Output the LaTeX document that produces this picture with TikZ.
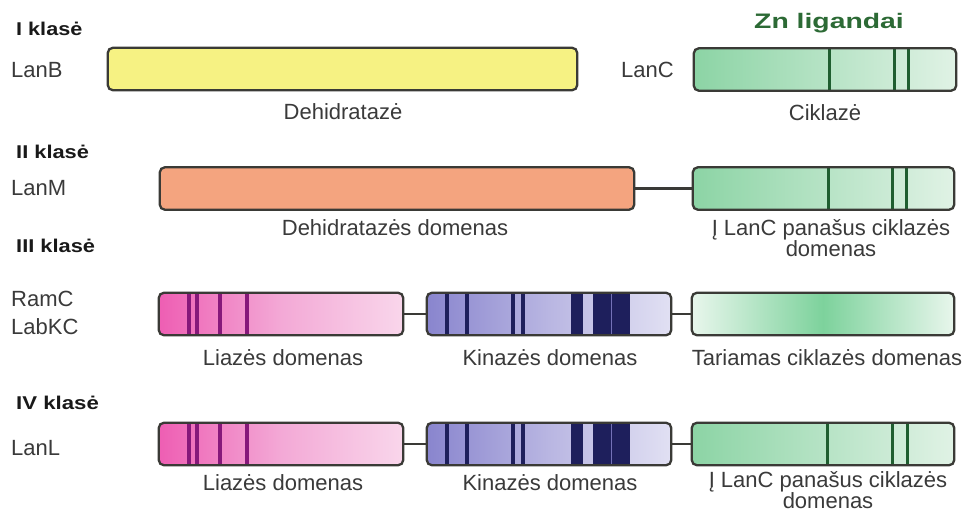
\documentclass[tikz,border=0pt]{standalone}
\usepackage{fontspec}
\setmainfont{Liberation Sans}
\usepackage{graphicx}
\definecolor{framec}{HTML}{3A3A36}
\definecolor{txtc}{HTML}{3A3A3A}
\definecolor{yel}{HTML}{F6F283}
\definecolor{ora}{HTML}{F4A47F}
\definecolor{grL}{HTML}{8CD4A5}
\definecolor{grR}{HTML}{E0F2E5}
\definecolor{grS}{HTML}{1F5E30}
\definecolor{grE}{HTML}{E8F6EC}
\definecolor{grC}{HTML}{7DD29C}
\definecolor{pkL}{HTML}{EE5EB3}
\definecolor{pkM}{HTML}{F3A9D6}
\definecolor{pkR}{HTML}{F9D6EB}
\definecolor{pkS}{HTML}{86187A}
\definecolor{kiL}{HTML}{8985CE}
\definecolor{kiM}{HTML}{B9B6E2}
\definecolor{kiR}{HTML}{E1E0F3}
\definecolor{kiS}{HTML}{1E1F5C}
\definecolor{znc}{HTML}{2C6A35}
\begin{document}
\begin{tikzpicture}[x=1pt,y=-1pt,
  dom/.style={inner sep=0pt, rounded corners=5pt, minimum height=42pt},
  frame/.style={draw=framec, line width=2.3pt, rounded corners=5pt},
  link/.style={draw=framec, line width=2.3pt},
  cls/.style={anchor=west, inner sep=0pt, font=\fontsize{18.5}{20}\selectfont\bfseries, text=black!90},
  prot/.style={anchor=west, inner sep=0pt, font=\fontsize{22}{23}\selectfont, text=txtc},
  lab/.style={inner sep=0pt, align=center, font=\fontsize{22}{21}\selectfont, text=txtc},
  grstripe/.style={draw=grS, line width=3.2pt},
  pkstripe/.style={draw=pkS, line width=3.4pt},
  kistripe/.style={draw=kiS, line width=4.4pt},
]
\useasboundingbox (0,0) rectangle (967,512);
\fill[white] (0,0) rectangle (967,512);

% ---------- class labels ----------
\node[cls] (c1) at (16,29) {\scalebox{1.17}[1]{I klasė}};
\node[cls] (c2) at (16,152) {\scalebox{1.18}[1]{II klasė}};
\node[cls] (c3) at (16,246) {\scalebox{1.18}[1]{III klasė}};
\node[cls] (c4) at (16,403) {\scalebox{1.2}[1]{IV klasė}};

\node[prot] (pB) at (11,70) {LanB};
\node[prot] (pC) at (621,70) {LanC};
\node[prot] (pM) at (11,188) {LanM};
\node[prot] (pR) at (11,299) {RamC};
\node[prot] (pK) at (11,327) {LabKC};
\node[prot] (pL) at (11,448) {LanL};

\node[inner sep=0pt, font=\fontsize{21}{22}\selectfont\bfseries, text=znc] (zn) at (829,23) {\scalebox{1.35}[1]{Zn ligandai}};

% ---------- row 1 ----------
\node[dom, fill=yel, minimum width=469pt] (b1) at (342.5,69) {};
\node[dom, left color=grL, right color=grR, minimum width=262pt] (g1) at (825,69.5) {};
\foreach \o in {136,201,215} \draw[grstripe] ([xshift=\o pt]g1.north west) -- ([xshift=\o pt]g1.south west);
\draw[frame] (b1.north west) rectangle (b1.south east);
\draw[frame] (g1.north west) rectangle (g1.south east);
\node[lab] (t1a) at (343,112) {Dehidratazė};
\node[lab] (t1b) at (825,113) {Ciklazė};

% ---------- row 2 ----------
\node[dom, fill=ora, minimum width=474pt] (o2) at (397,188.5) {};
\node[dom, left color=grL, right color=grR, minimum width=261pt] (g2) at (823.5,188.5) {};
\foreach \o in {136,200,214} \draw[grstripe] ([xshift=\o pt]g2.north west) -- ([xshift=\o pt]g2.south west);
\draw[link] (o2.east) -- (g2.west);
\draw[frame] (o2.north west) rectangle (o2.south east);
\draw[frame] (g2.north west) rectangle (g2.south east);
\node[lab] (t2a) at (395,228) {Dehidratazės domenas};
\node[lab] (t2b) at (831,238) {Į LanC panašus ciklazės\\domenas};

% ---------- row 3 ----------
\node[dom, left color=pkL, right color=pkR, middle color=pkM, minimum width=244pt] (p3) at (281,314) {};
\foreach \o in {30,38,61,88} \draw[pkstripe] ([xshift=\o pt]p3.north west) -- ([xshift=\o pt]p3.south west);
\node[dom, left color=kiL, right color=kiR, middle color=kiM, minimum width=244pt] (k3) at (549,314) {};
\foreach \o in {20,40,86,96} \draw[kistripe] ([xshift=\o pt]k3.north west) -- ([xshift=\o pt]k3.south west);
\fill[kiS] ([xshift=144pt]k3.north west) rectangle ([xshift=156pt]k3.south west);
\fill[kiS] ([xshift=166pt]k3.north west) rectangle ([xshift=203pt]k3.south west);
\draw[draw=kiL!80!kiS, line width=0.8pt] ([xshift=184.5pt]k3.north west) -- ([xshift=184.5pt]k3.south west);
\node[dom, left color=grE, right color=grE, middle color=grC, minimum width=262pt] (g3) at (823,314) {};
\draw[link] (p3.east) -- (k3.west);
\draw[link] (k3.east) -- (g3.west);
\draw[frame] (p3.north west) rectangle (p3.south east);
\draw[frame] (k3.north west) rectangle (k3.south east);
\draw[frame] (g3.north west) rectangle (g3.south east);
\node[lab] (t3a) at (283,358) {Liazės domenas};
\node[lab] (t3b) at (550,358) {Kinazės domenas};
\node[lab] (t3c) at (827,358) {Tariamas ciklazės domenas};

% ---------- row 4 ----------
\node[dom, left color=pkL, right color=pkR, middle color=pkM, minimum width=244pt] (p4) at (281,444) {};
\foreach \o in {30,38,61,88} \draw[pkstripe] ([xshift=\o pt]p4.north west) -- ([xshift=\o pt]p4.south west);
\node[dom, left color=kiL, right color=kiR, middle color=kiM, minimum width=244pt] (k4) at (549,444) {};
\foreach \o in {20,40,86,96} \draw[kistripe] ([xshift=\o pt]k4.north west) -- ([xshift=\o pt]k4.south west);
\fill[kiS] ([xshift=144pt]k4.north west) rectangle ([xshift=156pt]k4.south west);
\fill[kiS] ([xshift=166pt]k4.north west) rectangle ([xshift=203pt]k4.south west);
\draw[draw=kiL!80!kiS, line width=0.8pt] ([xshift=184.5pt]k4.north west) -- ([xshift=184.5pt]k4.south west);
\node[dom, left color=grL, right color=grR, minimum width=262pt] (g4) at (823,444) {};
\foreach \o in {136,201,216} \draw[grstripe] ([xshift=\o pt]g4.north west) -- ([xshift=\o pt]g4.south west);
\draw[link] (p4.east) -- (k4.west);
\draw[link] (k4.east) -- (g4.west);
\draw[frame] (p4.north west) rectangle (p4.south east);
\draw[frame] (k4.north west) rectangle (k4.south east);
\draw[frame] (g4.north west) rectangle (g4.south east);
\node[lab] (t4a) at (283,483) {Liazės domenas};
\node[lab] (t4b) at (550,483) {Kinazės domenas};
\node[lab] (t4c) at (828,490) {Į LanC panašus ciklazės\\domenas};
\end{tikzpicture}
\end{document}
